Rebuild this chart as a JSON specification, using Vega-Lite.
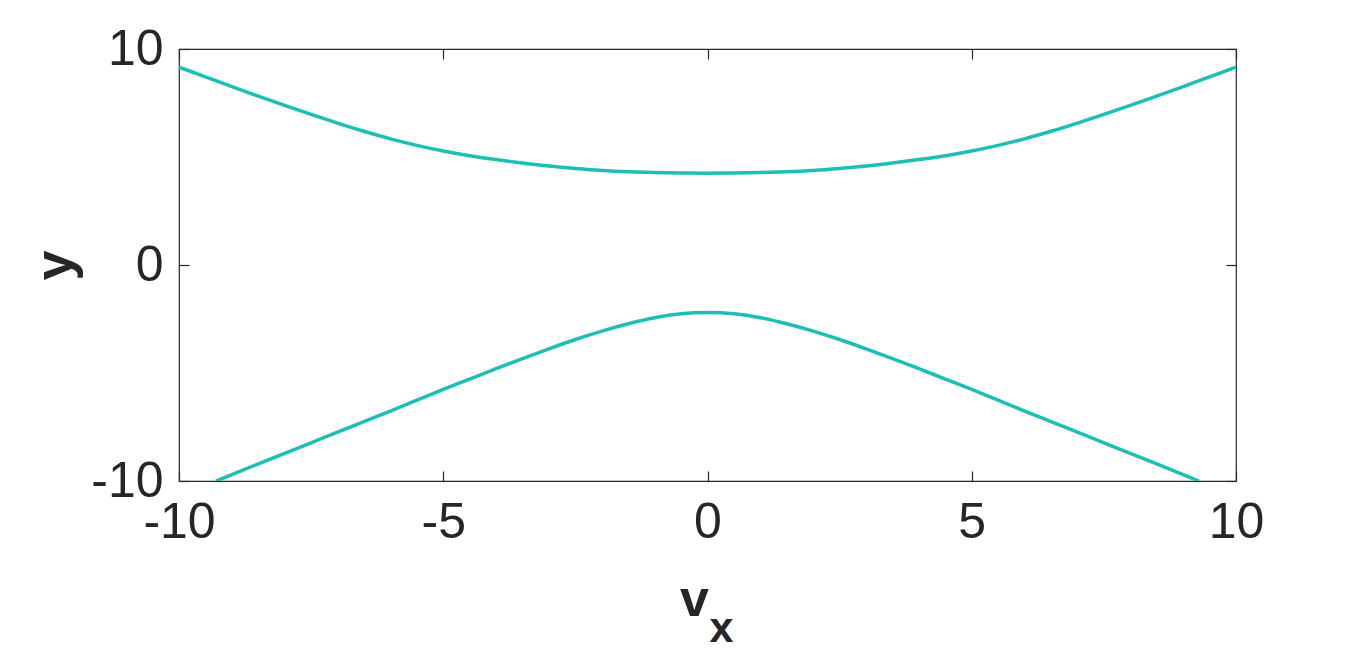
{
  "$schema": "https://vega.github.io/schema/vega-lite/v6.json",
  "width": 1057,
  "height": 432,
  "autosize": {"type": "none"},
  "padding": {"left": 179, "top": 49, "right": 130, "bottom": 170},
  "background": "white",
  "config": {
    "view": {"stroke": "#262626", "strokeWidth": 1.2},
    "font": "Liberation Sans",
    "axis": {"grid": false, "domain": false, "tickColor": "#262626", "tickWidth": 1.2, "tickSize": -10, "labelColor": "#262626", "labelFont": "Liberation Sans", "labelFontSize": 50, "labelFlush": false, "labelExpr": "'' + datum.value", "titleColor": "#262626", "titleFont": "Liberation Sans", "titleFontWeight": "bold"}
  },
  "data": {"values": [
    {"branch": "upper", "vx": -10, "y": 9.16},
    {"branch": "upper", "vx": -9.5, "y": 8.71},
    {"branch": "upper", "vx": -9, "y": 8.26},
    {"branch": "upper", "vx": -8.5, "y": 7.82},
    {"branch": "upper", "vx": -8, "y": 7.39},
    {"branch": "upper", "vx": -7.5, "y": 6.97},
    {"branch": "upper", "vx": -7, "y": 6.57},
    {"branch": "upper", "vx": -6.5, "y": 6.19},
    {"branch": "upper", "vx": -6, "y": 5.84},
    {"branch": "upper", "vx": -5.5, "y": 5.54},
    {"branch": "upper", "vx": -5, "y": 5.28},
    {"branch": "upper", "vx": -4.5, "y": 5.06},
    {"branch": "upper", "vx": -4, "y": 4.88},
    {"branch": "upper", "vx": -3.5, "y": 4.72},
    {"branch": "upper", "vx": -3, "y": 4.58},
    {"branch": "upper", "vx": -2.5, "y": 4.47},
    {"branch": "upper", "vx": -2, "y": 4.38},
    {"branch": "upper", "vx": -1.5, "y": 4.32},
    {"branch": "upper", "vx": -1, "y": 4.28},
    {"branch": "upper", "vx": -0.5, "y": 4.26},
    {"branch": "upper", "vx": 0, "y": 4.25},
    {"branch": "upper", "vx": 0.5, "y": 4.26},
    {"branch": "upper", "vx": 1, "y": 4.28},
    {"branch": "upper", "vx": 1.5, "y": 4.32},
    {"branch": "upper", "vx": 2, "y": 4.38},
    {"branch": "upper", "vx": 2.5, "y": 4.47},
    {"branch": "upper", "vx": 3, "y": 4.58},
    {"branch": "upper", "vx": 3.5, "y": 4.72},
    {"branch": "upper", "vx": 4, "y": 4.88},
    {"branch": "upper", "vx": 4.5, "y": 5.06},
    {"branch": "upper", "vx": 5, "y": 5.28},
    {"branch": "upper", "vx": 5.5, "y": 5.54},
    {"branch": "upper", "vx": 6, "y": 5.84},
    {"branch": "upper", "vx": 6.5, "y": 6.19},
    {"branch": "upper", "vx": 7, "y": 6.57},
    {"branch": "upper", "vx": 7.5, "y": 6.97},
    {"branch": "upper", "vx": 8, "y": 7.39},
    {"branch": "upper", "vx": 8.5, "y": 7.82},
    {"branch": "upper", "vx": 9, "y": 8.26},
    {"branch": "upper", "vx": 9.5, "y": 8.71},
    {"branch": "upper", "vx": 10, "y": 9.16},
    {"branch": "lower", "vx": -9.3, "y": -10.0},
    {"branch": "lower", "vx": -9, "y": -9.70},
    {"branch": "lower", "vx": -8.5, "y": -9.21},
    {"branch": "lower", "vx": -8, "y": -8.72},
    {"branch": "lower", "vx": -7.5, "y": -8.23},
    {"branch": "lower", "vx": -7, "y": -7.74},
    {"branch": "lower", "vx": -6.5, "y": -7.25},
    {"branch": "lower", "vx": -6, "y": -6.76},
    {"branch": "lower", "vx": -5.5, "y": -6.26},
    {"branch": "lower", "vx": -5, "y": -5.76},
    {"branch": "lower", "vx": -4.5, "y": -5.28},
    {"branch": "lower", "vx": -4, "y": -4.80},
    {"branch": "lower", "vx": -3.5, "y": -4.33},
    {"branch": "lower", "vx": -3, "y": -3.88},
    {"branch": "lower", "vx": -2.5, "y": -3.45},
    {"branch": "lower", "vx": -2, "y": -3.06},
    {"branch": "lower", "vx": -1.5, "y": -2.72},
    {"branch": "lower", "vx": -1, "y": -2.44},
    {"branch": "lower", "vx": -0.5, "y": -2.26},
    {"branch": "lower", "vx": 0, "y": -2.20},
    {"branch": "lower", "vx": 0.5, "y": -2.26},
    {"branch": "lower", "vx": 1, "y": -2.44},
    {"branch": "lower", "vx": 1.5, "y": -2.72},
    {"branch": "lower", "vx": 2, "y": -3.06},
    {"branch": "lower", "vx": 2.5, "y": -3.45},
    {"branch": "lower", "vx": 3, "y": -3.88},
    {"branch": "lower", "vx": 3.5, "y": -4.33},
    {"branch": "lower", "vx": 4, "y": -4.80},
    {"branch": "lower", "vx": 4.5, "y": -5.28},
    {"branch": "lower", "vx": 5, "y": -5.76},
    {"branch": "lower", "vx": 5.5, "y": -6.26},
    {"branch": "lower", "vx": 6, "y": -6.76},
    {"branch": "lower", "vx": 6.5, "y": -7.25},
    {"branch": "lower", "vx": 7, "y": -7.74},
    {"branch": "lower", "vx": 7.5, "y": -8.23},
    {"branch": "lower", "vx": 8, "y": -8.72},
    {"branch": "lower", "vx": 8.5, "y": -9.21},
    {"branch": "lower", "vx": 9, "y": -9.70},
    {"branch": "lower", "vx": 9.3, "y": -10.0}
  ]},
  "resolve": {"axis": {"x": "independent", "y": "independent"}},
  "layer": [
    {
      "mark": {"type": "line", "color": "#1BBFB4", "strokeWidth": 3.5, "interpolate": "monotone", "clip": true},
      "encoding": {
        "x": {"field": "vx", "type": "quantitative", "scale": {"domain": [-10, 10], "nice": false, "zero": false},
          "axis": {"orient": "bottom", "values": [-10, -5, 0, 5, 10], "labelPadding": 26,
            "title": "v", "titleFontSize": 52, "titleX": 515, "titleY": 134, "titleBaseline": "alphabetic", "titleAlign": "center"}},
        "y": {"field": "y", "type": "quantitative", "scale": {"domain": [-10, 10], "nice": false, "zero": false},
          "axis": {"orient": "left", "values": [-10, 0, 10], "labelPadding": 26,
            "title": "y", "titleFontSize": 54, "titlePadding": 8}},
        "detail": {"field": "branch"}
      }
    },
    {
      "mark": {"type": "line", "strokeOpacity": 0, "clip": true},
      "encoding": {
        "x": {"field": "vx", "type": "quantitative", "scale": {"domain": [-10, 10], "nice": false, "zero": false},
          "axis": {"orient": "top", "values": [-10, -5, 0, 5, 10], "labels": false, "title": null}},
        "y": {"field": "y", "type": "quantitative", "scale": {"domain": [-10, 10], "nice": false, "zero": false},
          "axis": {"orient": "right", "values": [-10, 0, 10], "labels": false, "title": null}},
        "detail": {"field": "branch"}
      }
    },
    {
      "mark": {"type": "line", "strokeOpacity": 0, "clip": true},
      "encoding": {
        "x": {"field": "vx", "type": "quantitative", "scale": {"domain": [-10, 10], "nice": false, "zero": false},
          "axis": {"orient": "bottom", "labels": false, "ticks": false, "domain": false,
            "title": "x", "titleFontSize": 43, "titleX": 542, "titleY": 160, "titleBaseline": "alphabetic", "titleAlign": "center"}},
        "y": {"field": "y", "type": "quantitative", "scale": {"domain": [-10, 10], "nice": false, "zero": false}, "axis": null},
        "detail": {"field": "branch"}
      }
    }
  ]
}
